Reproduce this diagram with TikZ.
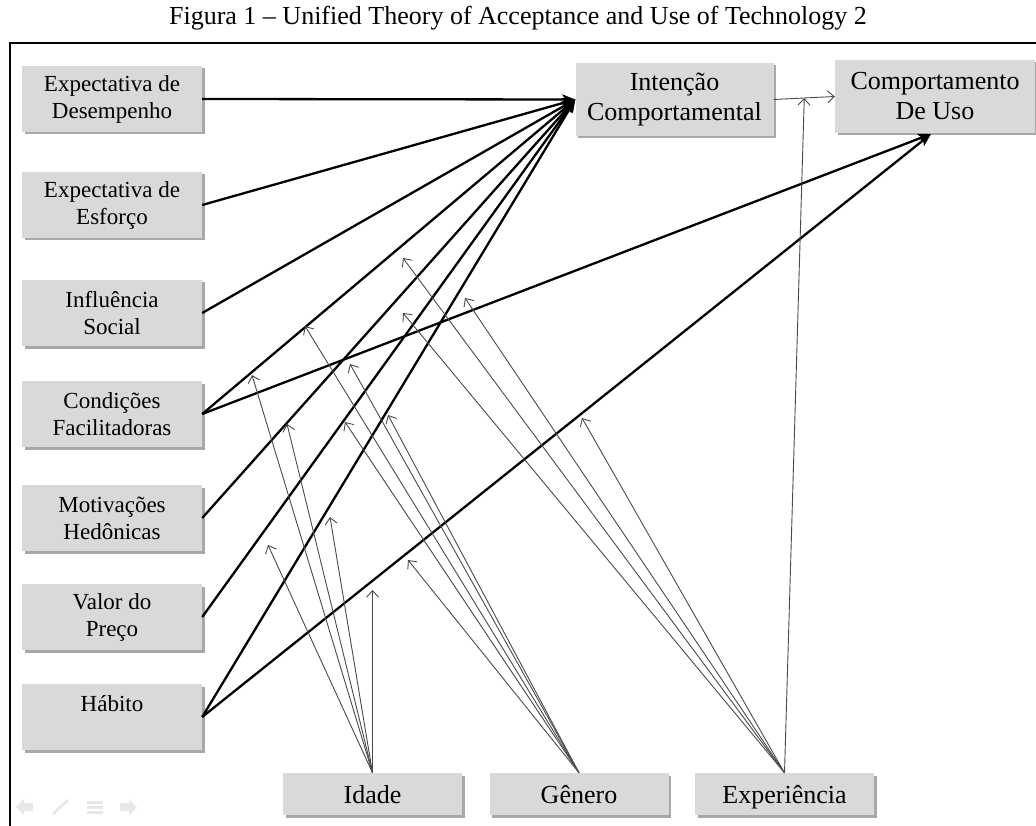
\documentclass[tikz,border=0pt]{standalone}
\usepackage{fontspec}
\setmainfont{Liberation Serif}
\usetikzlibrary{arrows.meta,shadows}
\definecolor{boxgray}{HTML}{D9D9D9}
\definecolor{shadowgray}{HTML}{A8A8A8}
\definecolor{modgray}{HTML}{4A4A4A}
\definecolor{icongray}{HTML}{E8E8E8}
\begin{document}
\begin{tikzpicture}[x=1pt,y=-1pt,
  box/.style={fill=boxgray, inner sep=0pt, align=center,
    drop shadow={shadow xshift=2.5pt, shadow yshift=-2.5pt, fill=shadowgray, opacity=1}},
  lbox/.style={box, minimum width=180pt, minimum height=66pt, font=\fontsize{23}{27}\selectfont},
  rbox/.style={box, minimum width=198pt, minimum height=73pt, font=\fontsize{26}{30}\selectfont},
  bbox/.style={box, minimum width=179pt, minimum height=42pt, text height=22pt, text depth=4pt,
    font=\fontsize{26}{30}\selectfont},
  mainarrow/.style={line width=2.3pt, -{Stealth[length=13pt,width=10pt,inset=3pt]}},
  modarrow/.style={draw=modgray, line width=0.9pt, -{Straight Barb[length=6.5pt,width=12pt]}},
  icon/.style={fill=icongray, draw=none},
]
\fill[white] (0,0) rectangle (1036,826);
\useasboundingbox (0,0) rectangle (1036,826);

% title
\node[font=\fontsize{26}{30}\selectfont, inner sep=0pt] (title) at (518,18)
  {Figura 1 – Unified Theory of Acceptance and Use of Technology 2};

% frame
\draw[line width=1.4pt] (10,826) -- (10,43) -- (1036,43);

% left constructs
\node[lbox] (pe) at (112,99)  {Expectativa de\\Desempenho};
\node[lbox] (ee) at (112,205) {Expectativa de\\Esforço};
\node[lbox] (si) at (112,313) {Influência\\Social};
\node[lbox] (fc) at (112,414) {Condições\\Facilitadoras};
\node[lbox] (hm) at (112,518) {Motivações\\Hedônicas};
\node[lbox] (pv) at (112,617) {Valor do\\Preço};
\node[lbox] (ht) at (112,717) {Hábito\\\mbox{}};

% outcomes
\node[rbox] (bi) at (674.5,99.5) {Intenção\\Comportamental};
\node[rbox, minimum width=200pt] (ub) at (935,96.5) {Comportamento\\De Uso};

% moderators
\node[bbox] (age) at (372.5,794) {Idade};
\node[bbox] (gen) at (579,794)   {Gênero};
\node[bbox] (exp) at (784.5,794) {Experiência};

\coordinate (ubtip) at (931,134);

% main paths
\draw[mainarrow] (pe.east) -- (bi.west);
\draw[mainarrow] (ee.east) -- (bi.west);
\draw[mainarrow] (si.east) -- (bi.west);
\draw[mainarrow] (fc.east) -- (bi.west);
\draw[mainarrow] (hm.east) -- (bi.west);
\draw[mainarrow] (pv.east) -- (bi.west);
\draw[mainarrow] (ht.east) -- (bi.west);
\draw[mainarrow] (fc.east) -- (ubtip);
\draw[mainarrow] (ht.east) -- (ubtip);

% intention -> use
\draw[modarrow] (bi.east) -- coordinate[pos=0.5] (biub) (ub.west);

% moderator tips
\coordinate (a1) at (268,545);
\coordinate (a2) at (252,375);
\coordinate (a3) at (287,424);
\coordinate (a4) at (330,517);
\coordinate (a5) at (372.5,590);
\coordinate (g1) at (408,560);
\coordinate (g2) at (345,422);
\coordinate (g3) at (305,326);
\coordinate (g4) at (350,364);
\coordinate (g5) at (388,415);
\coordinate (e1) at (403,258);
\coordinate (e2) at (403,313);
\coordinate (e3) at (465,298);
\coordinate (e4) at (582,418);

\foreach \t in {a1,a2,a3,a4,a5} \draw[modarrow] (age.north) -- (\t);
\foreach \t in {g1,g2,g3,g4,g5} \draw[modarrow] (gen.north) -- (\t);
\foreach \t in {e1,e2,e3,e4} \draw[modarrow] (exp.north) -- (\t);
\draw[modarrow] (exp.north) -- (biub);

% faint slide-show icons
\fill[icon] (16,807) -- (24,799) -- (24,803) -- (33,803) -- (33,811) -- (24,811) -- (24,815) -- cycle;
\draw[icongray, line width=3pt] (53,814) -- (68,800);
\fill[icon] (87,801) rectangle (103,804);
\fill[icon] (87,806) rectangle (103,809);
\fill[icon] (87,811) rectangle (103,814);
\fill[icon] (137,807) -- (129,799) -- (129,803) -- (120,803) -- (120,811) -- (129,811) -- (129,815) -- cycle;
\end{tikzpicture}
\end{document}
